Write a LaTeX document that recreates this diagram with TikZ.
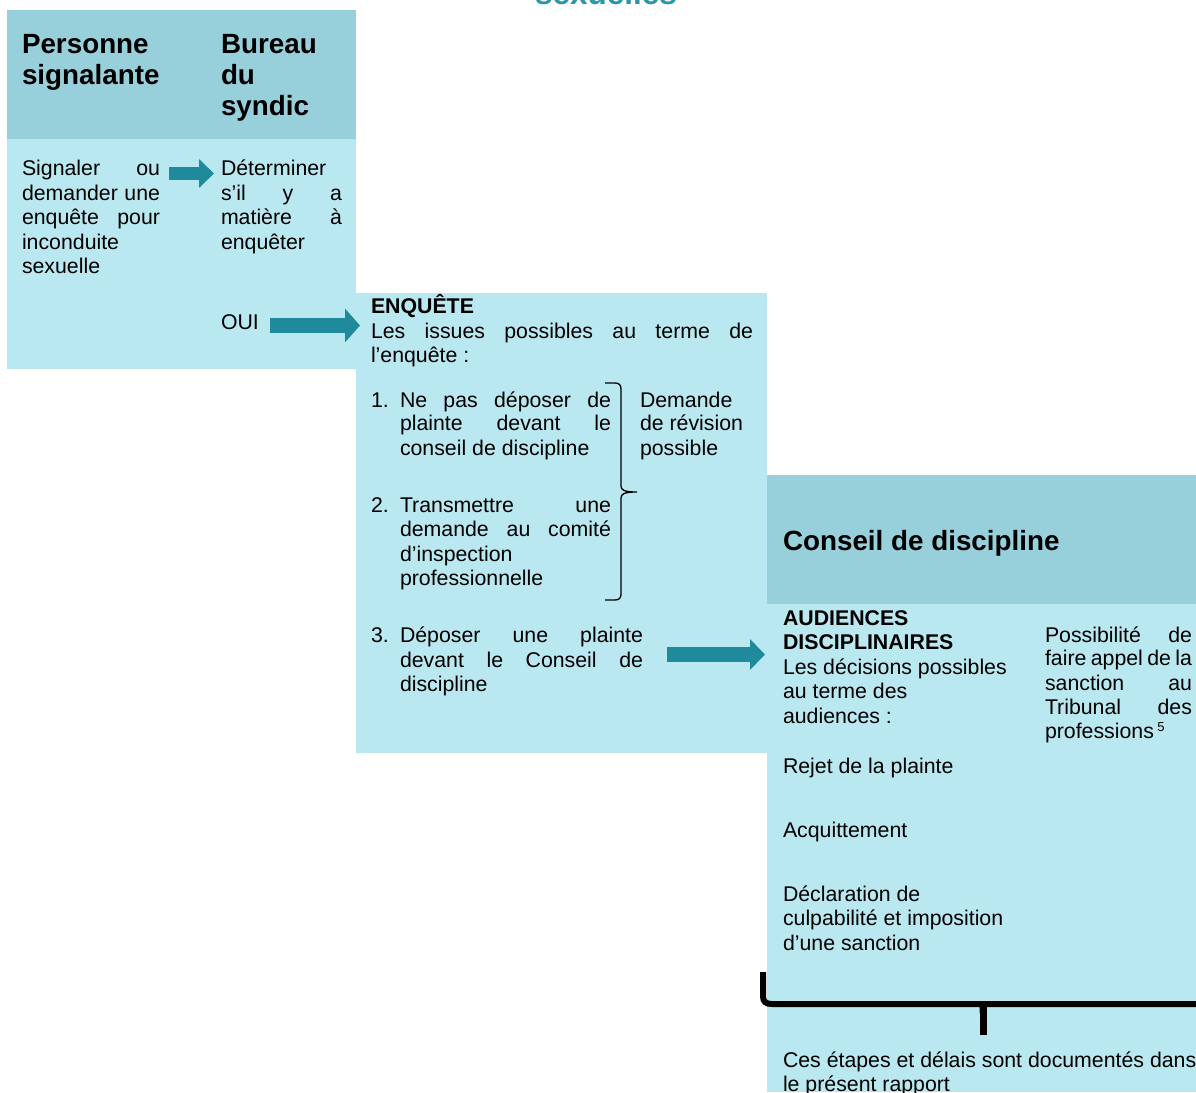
\documentclass[tikz,border=0pt]{standalone}
\usepackage{fontspec}
\setmainfont{Liberation Sans}
\usetikzlibrary{arrows.meta}
\definecolor{hdr}{HTML}{97CFDB}
\definecolor{bdy}{HTML}{BAE8F0}
\definecolor{arr}{HTML}{1E8A9B}
\definecolor{ttl}{HTML}{2996AA}
\newcommand\Jl[2]{\makebox[#1pt][s]{#2}}
\begin{document}
\begin{tikzpicture}[x=1pt,y=-1pt,
  txt/.style={anchor=base west, inner sep=0pt, outer sep=0pt, font=\fontsize{21.3}{24.5}\selectfont},
  btxt/.style={txt, font=\fontsize{21.3}{24.5}\selectfont\bfseries},
  hd/.style={anchor=base west, inner sep=0pt, outer sep=0pt, font=\fontsize{27.8}{31.3}\selectfont\bfseries},
  blockarrow/.style={draw=arr, line width=#1, line cap=butt},
]
\useasboundingbox (0,0) rectangle (1196,1092);
% title (cut off)
\node[anchor=base, inner sep=0pt, text=ttl, font=\fontsize{31.5}{36}\selectfont\bfseries] (title) at (606,4.7) {sexuelles};
% panels
\fill[bdy] (7,139) rectangle (356,369);
\fill[hdr] (7,10) rectangle (356,139);
\fill[bdy] (356,293) rectangle (767,753);
\fill[bdy] (767,604) rectangle (1196,1092);
\fill[hdr] (767,475) rectangle (1196,604);
% headers
\node[hd] (h1a) at (22,53) {Personne};
\node[hd] (h1b) at (22,84) {signalante};
\node[hd] (h2a) at (221,53) {Bureau};
\node[hd] (h2b) at (221,84) {du};
\node[hd] (h2c) at (221,115) {syndic};
% column 1
\node[txt] (s1) at (22,175.7) {\Jl{138}{Signaler ou}};
\node[txt] (s2) at (22,200) {\Jl{138}{demander une}};
\node[txt] (s3) at (22,224.5) {\Jl{138}{enquête pour}};
\node[txt] (s4) at (22,249) {inconduite};
\node[txt] (s5) at (22,273.5) {sexuelle};
% column 2
\node[txt] (d1) at (221,175.7) {Déterminer};
\node[txt] (d2) at (221,200) {\Jl{121}{s’il y a}};
\node[txt] (d3) at (221,224.5) {\Jl{121}{matière à}};
\node[txt] (d4) at (221,249) {enquêter};
\node[txt] (oui) at (221,329) {OUI};
% enquete
\node[btxt] (e0) at (371,313) {ENQUÊTE};
\node[txt] (e1) at (371,338) {\Jl{382}{Les issues possibles au terme de}};
\node[txt] (e2) at (371,362) {l’enquête :};
\node[txt] (n1) at (371,407) {1.};
\node[txt] (i1a) at (400,407) {\Jl{211}{Ne pas déposer de}};
\node[txt] (i1b) at (400,430.5) {\Jl{211}{plainte devant le}};
\node[txt] (i1c) at (400,455) {conseil de discipline};
\node[txt] (n2) at (371,512) {2.};
\node[txt] (i2a) at (400,512) {\Jl{211}{Transmettre une}};
\node[txt] (i2b) at (400,536) {\Jl{211}{demande au comité}};
\node[txt] (i2c) at (400,561) {d’inspection};
\node[txt] (i2d) at (400,585) {professionnelle};
\node[txt] (n3) at (371,642) {3.};
\node[txt] (i3a) at (400,642) {\Jl{243}{Déposer une plainte}};
\node[txt] (i3b) at (400,667) {\Jl{243}{devant le Conseil de}};
\node[txt] (i3c) at (400,691) {discipline};
\node[txt] (r1) at (640,407) {Demande};
\node[txt] (r2) at (640,430.5) {de révision};
\node[txt] (r3) at (640,455) {possible};
% bracket
\draw[line width=1.3pt] (605,383) -- (615,383) .. controls (619,383) and (621,385) .. (621,389) -- (621,486)
  .. controls (621,490) and (624,492) .. (637,492) .. controls (624,492) and (621,494) .. (621,498)
  -- (621,594) .. controls (621,598) and (619,600) .. (615,600) -- (605,600);
% conseil
\node[hd] (c0) at (783,550) {Conseil de discipline};
\node[btxt] (c1) at (783,625) {AUDIENCES};
\node[btxt] (c2) at (783,649) {DISCIPLINAIRES};
\node[txt] (c3) at (783,674) {Les décisions possibles};
\node[txt] (c4) at (783,698) {au terme des};
\node[txt] (c5) at (783,723) {audiences :};
\node[txt] (p1) at (1045,642) {\Jl{147}{Possibilité de}};
\node[txt] (p2) at (1045,665.5) {\Jl{147}{faire appel de la}};
\node[txt] (p3) at (1045,690) {\Jl{147}{sanction au}};
\node[txt] (p4) at (1045,714) {\Jl{147}{Tribunal des}};
\node[txt] (p5) at (1045,738) {professions\,\raisebox{7pt}{\fontsize{13}{13}\selectfont 5}};
\node[txt] (o1) at (783,773) {Rejet de la plainte};
\node[txt] (o2) at (783,837) {Acquittement};
\node[txt] (o3a) at (783,901) {Déclaration de};
\node[txt] (o3b) at (783,925) {culpabilité et imposition};
\node[txt] (o3c) at (783,950) {d’une sanction};
\node[txt] (f1) at (783,1067) {Ces étapes et délais sont documentés dans};
\node[txt] (f2) at (783,1091) {le présent rapport};
% bottom brace
\draw[line width=6pt] (763,972) -- (763,996) .. controls (763,1002) and (766,1004) .. (772,1004) -- (1202,1004);
\draw[line width=7pt] (983,1004) -- (983,1035);
\fill (973,1002) .. controls (980,1005) .. (979.5,1013) -- (986.5,1013) .. controls (986,1005) .. (993,1002) -- cycle;
% block arrows
\coordinate (a1s) at (169,173.5); \coordinate (a1e) at (214,173.5);
\coordinate (a2s) at (270,325.5); \coordinate (a2e) at (360,325.5);
\coordinate (a3s) at (667,654.5); \coordinate (a3e) at (765,654.5);
\draw[blockarrow=13pt, -{Triangle[width=28pt,length=15pt]}, arr] (a1s) -- (a1e);
\draw[blockarrow=15pt, -{Triangle[width=33pt,length=15pt]}, arr] (a2s) -- (a2e);
\draw[blockarrow=15pt, -{Triangle[width=30pt,length=15pt]}, arr] (a3s) -- (a3e);
\end{tikzpicture}
\end{document}
